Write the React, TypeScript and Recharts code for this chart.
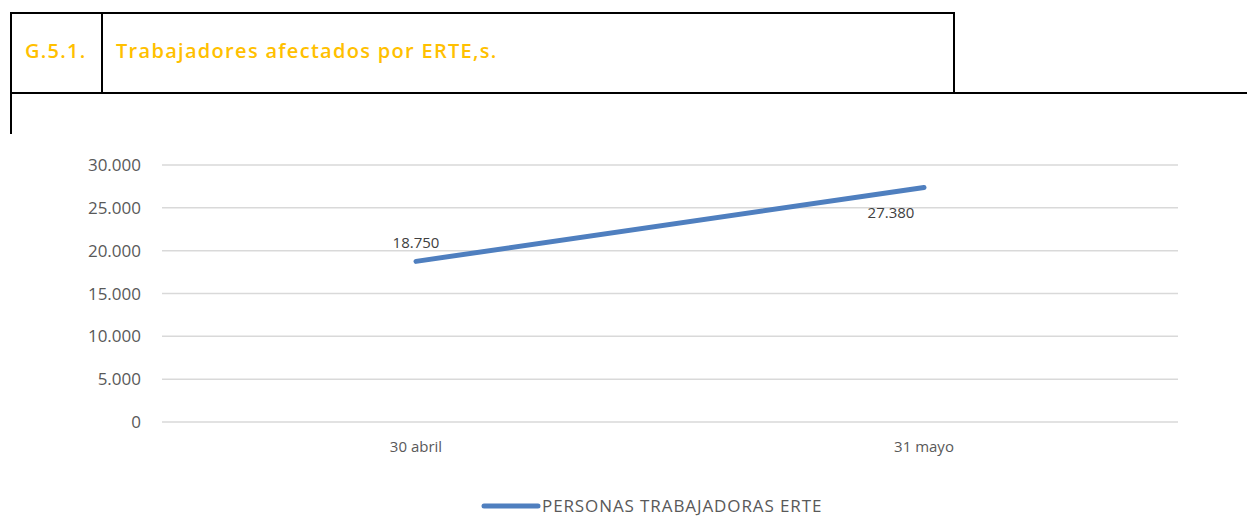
import React from "react";
import { LineChart, Line, XAxis, YAxis, CartesianGrid, LabelList } from "recharts";

const categories = ["30 abril", "31 mayo"];
const trabajadores = [18750, 27380];
const yTicks = [0, 5000, 10000, 15000, 20000, 25000, 30000];
const seriesName = "PERSONAS TRABAJADORAS ERTE";
const chartCode = "G.5.1.";
const chartTitle = "Trabajadores afectados por ERTE,s.";

const data = categories.map((name, i) => ({ name, value: trabajadores[i] }));

const FONT = "'Open Sans', 'Noto Sans', sans-serif";
const LINE_COLOR = "#4f7fbf";
const GOLD = "#ffc000";

// miles con punto, también para 4 cifras (5.000)
const fmt = (v: number) => String(v).replace(/\B(?=(\d{3})+(?!\d))/g, ".");

// posición de cada etiqueta respecto al punto
const labelShift = [
  { dx: 0, dy: -19 },
  { dx: -33, dy: 25 },
];

function PointLabel(props: any) {
  const { x, y, value, index } = props;
  const s = labelShift[index] ?? { dx: 0, dy: -15 };
  return (
    <text
      x={x + s.dx}
      y={y + s.dy}
      textAnchor="middle"
      dominantBaseline="central"
      fontSize={15}
      fontFamily={FONT}
      fill="#404040"
    >
      {fmt(value as number)}
    </text>
  );
}

const border = "2px solid #000";
const titleStyle: React.CSSProperties = {
  position: "absolute",
  top: 37,
  fontFamily: FONT,
  fontWeight: 600,
  fontSize: 20,
  letterSpacing: 1.3,
  color: GOLD,
  whiteSpace: "nowrap",
};

export default function App() {
  return (
    <div style={{ position: "absolute", left: 0, top: 0, width: 1247, height: 520, background: "#fff", overflow: "hidden" }}>
      {/* cabecera tipo tabla */}
      <div style={{ position: "absolute", left: 10, top: 12, width: 945, height: 81, borderTop: border, borderLeft: border, borderRight: border, boxSizing: "border-box" }} />
      <div style={{ position: "absolute", left: 101, top: 12, width: 2, height: 81, background: "#000" }} />
      <div style={{ position: "absolute", left: 10, top: 92, width: 1237, height: 2, background: "#000" }} />
      <div style={{ position: "absolute", left: 10, top: 92, width: 2, height: 42, background: "#000" }} />
      <div style={{ ...titleStyle, left: 25 }}>{chartCode}</div>
      <div style={{ ...titleStyle, left: 116 }}>{chartTitle}</div>

      <div style={{ position: "absolute", left: 0, top: 0 }}>
        <LineChart width={1247} height={520} data={data} margin={{ top: 165, right: 69, bottom: 68, left: 0 }}>
          <CartesianGrid vertical={false} stroke="#d9d9d9" strokeWidth={1.5} />
          <XAxis
            dataKey="name"
            height={30}
            axisLine={false}
            tickLine={false}
            tickSize={0}
            tickMargin={19}
            padding={{ left: 254, right: 254 }}
            tick={{ fontSize: 15, fontFamily: FONT, fill: "#595959" }}
          />
          <YAxis
            width={162}
            domain={[0, 30000]}
            ticks={yTicks}
            axisLine={false}
            tickLine={false}
            tickSize={0}
            tickMargin={21}
            tickFormatter={fmt}
            tick={{ fontSize: 17, fontFamily: FONT, fill: "#595959" }}
          />
          <Line
            type="linear"
            dataKey="value"
            name={seriesName}
            stroke={LINE_COLOR}
            strokeWidth={5}
            strokeLinecap="round"
            dot={false}
            activeDot={false}
            isAnimationActive={false}
          >
            <LabelList dataKey="value" content={<PointLabel />} />
          </Line>
        </LineChart>
      </div>

      {/* leyenda */}
      <div style={{ position: "absolute", left: 481, top: 497, height: 17, lineHeight: "17px", display: "flex", alignItems: "center", fontFamily: FONT, fontSize: 17, letterSpacing: 0.9, color: "#595959", whiteSpace: "nowrap" }}>
        <svg width={60} height={8} style={{ marginRight: 1 }}>
          <line x1={3} y1={4} x2={57} y2={4} stroke={LINE_COLOR} strokeWidth={5} strokeLinecap="round" />
        </svg>
        <span>{seriesName}</span>
      </div>
    </div>
  );
}
